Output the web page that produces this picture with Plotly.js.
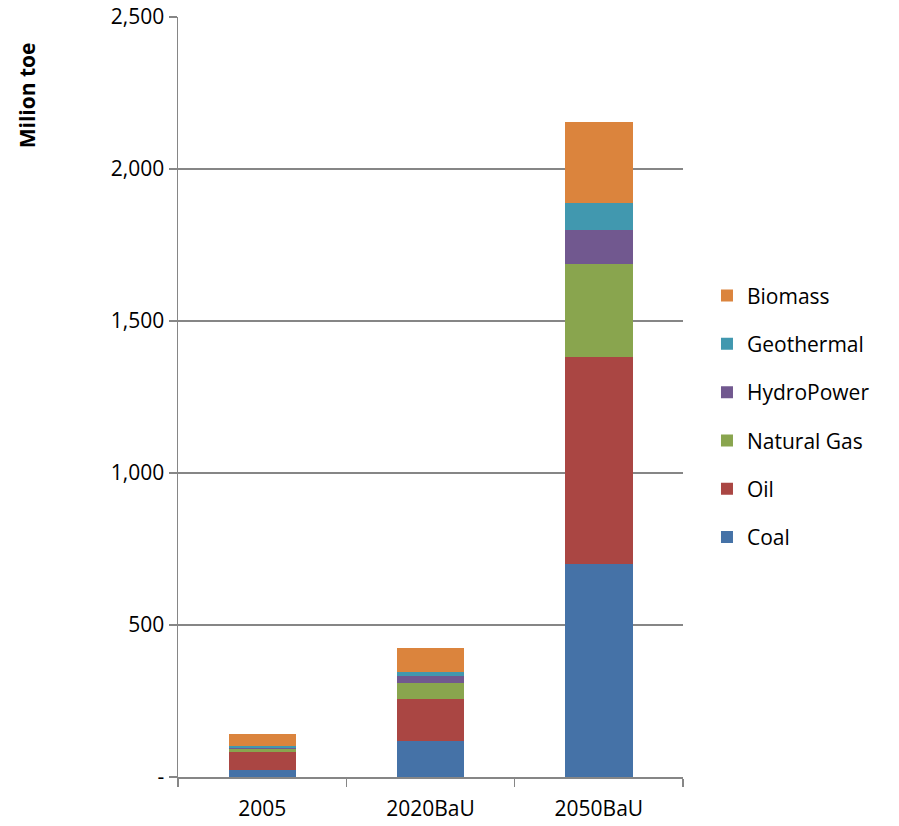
<!DOCTYPE html>
<html>
<head>
<meta charset="utf-8">
<script src="https://cdn.plot.ly/plotly-3.0.1.min.js"></script>
<style>
  html, body { margin: 0; padding: 0; background: #fff; }
  #chart { width: 899px; height: 826px; }
</style>
</head>
<body>
<div id="chart"></div>
<script>
// Primary energy supply by source (million toe)
const scenarios = ["2005", "2020BaU", "2050BaU"];
const coal       = [24, 119, 700];
const oil        = [57, 139, 683];
const naturalGas = [12, 52, 304];
const hydroPower = [3, 21, 111];
const geothermal = [7, 16, 89];
const biomass    = [39, 77, 266];

const seriesNames  = ["Coal", "Oil", "Natural Gas", "HydroPower", "Geothermal", "Biomass"];
const seriesValues = [coal, oil, naturalGas, hydroPower, geothermal, biomass];
const seriesColors = ["#4572A7", "#AA4643", "#89A54E", "#71588F", "#4198AF", "#DB843D"];

const yTickVals  = [0, 500, 1000, 1500, 2000, 2500];
const yTickTexts = ["-", "500", "1,000", "1,500", "2,000", "2,500"];

// Stack from Coal upwards; legend lists the top of the stack first
const traces = seriesNames.map((name, i) => ({
  type: "bar",
  name: name,
  x: scenarios,
  y: seriesValues[i],
  legendgroup: name,
  legendrank: seriesNames.length - i,
  marker: { color: seriesColors[i], line: { width: 0 } },
  hoverinfo: "x+y+name"
}));

const font = "'Open Sans', Lato, sans-serif";

const layout = {
  width: 899,
  height: 826,
  margin: { l: 178, r: 216, t: 17, b: 49 },
  paper_bgcolor: "#ffffff",
  plot_bgcolor: "#ffffff",
  barmode: "stack",
  bargap: 0.6,
  font: { family: font, size: 21, color: "#000" },
  showlegend: true,
  legend: {
    x: 1.0475, xanchor: "left",
    y: 0.66, yanchor: "top",
    traceorder: "grouped",
    tracegroupgap: 18,
    font: { family: font, size: 21, color: "#000" },
    itemwidth: 30
  },
  xaxis: {
    type: "category",
    tickson: "boundaries",
    ticks: "outside",
    ticklen: 8,
    tickcolor: "#868686",
    tickwidth: 1.5,
    ticklabelstandoff: 12,
    showline: true,
    linecolor: "#868686",
    linewidth: 2,
    showgrid: false,
    tickfont: { family: font, size: 21, color: "#000" },
    fixedrange: true
  },
  yaxis: {
    range: [0, 2500],
    tickvals: yTickVals,
    ticktext: yTickTexts,
    ticks: "outside",
    ticklen: 8,
    tickcolor: "#868686",
    tickwidth: 1.5,
    showline: true,
    linecolor: "#868686",
    linewidth: 1.5,
    showgrid: true,
    gridcolor: "#868686",
    gridwidth: 1.5,
    zeroline: false,
    tickfont: { family: font, size: 21, color: "#000" },
    automargin: false,
    fixedrange: true
  },
  annotations: [{
    text: "<b>Milion toe</b>",
    xref: "paper", yref: "paper",
    x: -0.299, y: 0.897,
    xanchor: "center", yanchor: "middle",
    textangle: -90,
    showarrow: false,
    font: { family: font, size: 21, color: "#000" }
  }]
};

Plotly.newPlot("chart", traces, layout, { displayModeBar: false, staticPlot: true });
</script>
</body>
</html>
